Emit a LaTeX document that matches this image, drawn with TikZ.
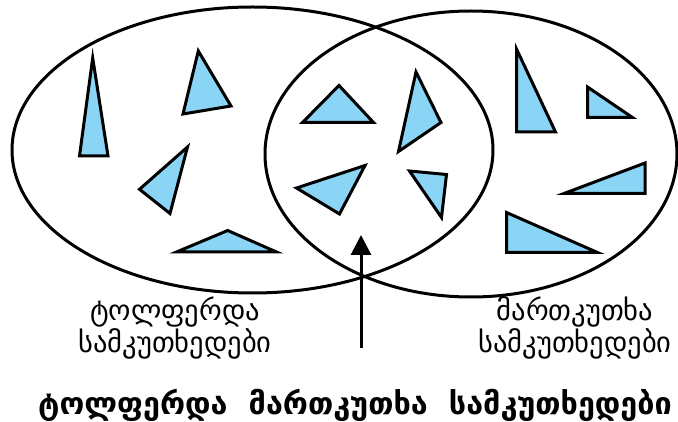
\documentclass[tikz,border=0pt]{standalone}
\usepackage{fontspec}
\usetikzlibrary{arrows.meta}
\newfontfamily\geofont{DejaVu Sans}
\definecolor{triblue}{RGB}{138,213,245}
\tikzset{
  setline/.style={line width=3pt, black},
  tri/.style={line width=3pt, black, fill=triblue, line join=miter},
  lbl/.style={font=\geofont\fontsize{28.5}{23}\selectfont, align=center, inner sep=0pt},
  bottomlbl/.style={font=\geofont\bfseries\fontsize{30.5}{30}\selectfont, inner sep=0pt}
}
\begin{document}
\begin{tikzpicture}[x=1pt,y=-1pt]
\useasboundingbox (0,0) rectangle (678,422);
% sets
\draw[setline] (252.5,150) ellipse [x radius=240.5, y radius=143];
\draw[setline] (471,154) ellipse [x radius=206, y radius=143];
% isosceles only
\draw[tri] (92.7,58) -- (108,156) -- (79.5,156) -- cycle;
\draw[tri] (198.3,51) -- (231,106) -- (183,114) -- cycle;
\draw[tri] (187.5,147) -- (139.5,189.3) -- (170,213.5) -- cycle;
\draw[tri] (227.7,230.5) -- (276.5,252) -- (176.5,252) -- cycle;
% both
\draw[tri] (339,85.5) -- (373.5,122.5) -- (302.5,122.5) -- cycle;
\draw[tri] (416,72) -- (441,122.5) -- (398.5,151.5) -- cycle;
\draw[tri] (365,165.5) -- (296.5,188) -- (339.5,214) -- cycle;
\draw[tri] (409.5,171) -- (446.5,174.5) -- (441.5,217.5) -- cycle;
% right only
\draw[tri] (516.5,49) -- (516.5,132) -- (555.5,132) -- cycle;
\draw[tri] (587.5,87) -- (587.5,117.5) -- (632.5,117.5) -- cycle;
\draw[tri] (645,163) -- (645,193.5) -- (564,193.5) -- cycle;
\draw[tri] (506.5,212.5) -- (506.5,252.5) -- (597.5,252.5) -- cycle;
% labels
\node[lbl] (left) at (175,328) {ტოლფერდა\\სამკუთხედები};
\node[lbl] (right) at (575,328) {მართკუთხა\\სამკუთხედები};
\node[bottomlbl] (bottom) at (355,405) {ტოლფერდა\ \ მართკუთხა\ \ სამკუთხედები};
% arrow
\coordinate (arrowstart) at (361,348);
\coordinate (arrowtip) at (361,235);
\draw[line width=3pt, -{Triangle[width=20pt,length=20pt]}] (arrowstart) -- (arrowtip);
\end{tikzpicture}
\end{document}
